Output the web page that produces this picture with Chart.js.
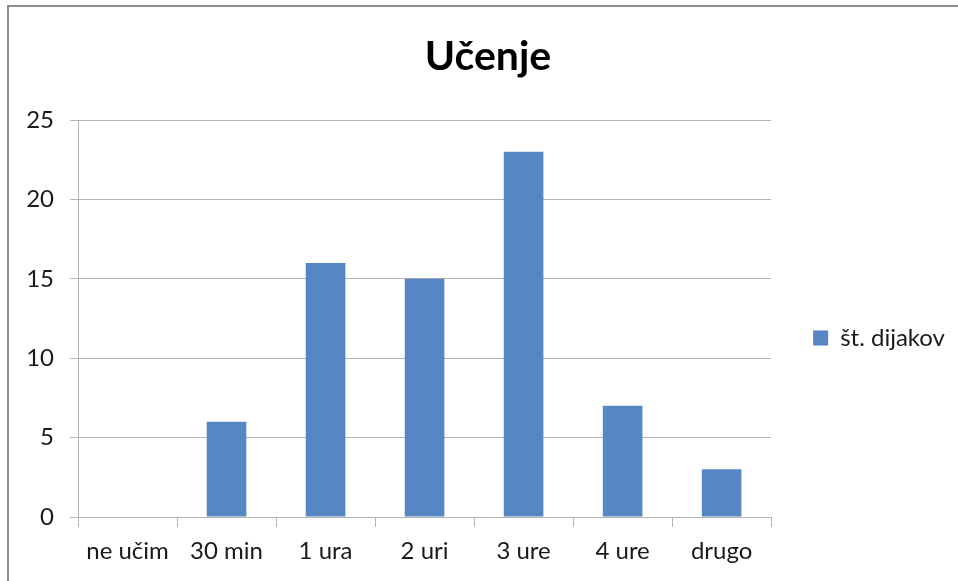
<!DOCTYPE html>
<html>
<head>
<meta charset="utf-8">
<script src="https://cdn.jsdelivr.net/npm/chart.js@4/dist/chart.umd.min.js"></script>
<style>
  html, body { margin: 0; padding: 0; background: #ffffff; overflow: hidden; width: 958px; height: 581px; }
  #frame { position: absolute; left: 7px; top: 5px; width: 1000px; height: 700px;
           border-left: 2px solid #8c8c8c; border-top: 2px solid #8c8c8c; }
  #c { position: absolute; left: 0; top: 0; }
</style>
</head>
<body>
<div id="frame"></div>
<canvas id="c" width="958" height="581"></canvas>
<script>
const titleText = 'Učenje';
const categories = ['ne učim', '30 min', '1 ura', '2 uri', '3 ure', '4 ure', 'drugo'];
const seriesName = 'št. dijakov';
const seriesValues = [0, 6, 16, 15, 23, 7, 3];
const yTicks = [0, 5, 10, 15, 20, 25];

const FONT = 'Lato, "Open Sans", sans-serif';
const gridColor = '#b3b3b3';
const textColor = '#1a1a1a';
const barColor = '#5687c4';

new Chart(document.getElementById('c'), {
  type: 'bar',
  data: {
    labels: categories,
    datasets: [{
      label: seriesName,
      data: seriesValues,
      backgroundColor: barColor,
      borderWidth: 0,
      categoryPercentage: 1.0,
      barPercentage: 0.4
    }]
  },
  options: {
    responsive: false,
    animation: false,
    devicePixelRatio: 1,
    layout: { padding: { left: 21, right: 3, top: 0, bottom: 0 } },
    plugins: {
      title: {
        display: true,
        text: titleText,
        color: '#000000',
        font: { family: FONT, size: 41, weight: 'bold' },
        padding: { top: 32, bottom: 38.8 }
      },
      legend: {
        display: true,
        position: 'right',
        fullSize: false,
        align: 'center',
        title: { display: true, text: '', font: { size: 1 }, padding: { top: 38, bottom: 0 } },
        labels: {
          boxWidth: 15,
          boxHeight: 15,
          padding: 42,
          color: textColor,
          font: { family: FONT, size: 24 }
        }
      },
      tooltip: { enabled: false }
    },
    scales: {
      x: {
        grid: { offset: true, drawOnChartArea: false, drawTicks: true, tickLength: 10, color: gridColor },
        border: { display: true, color: gridColor, width: 1 },
        ticks: { color: textColor, font: { family: FONT, size: 24 }, padding: 10, maxRotation: 0, autoSkip: false },
        afterFit: (s) => { s.height = 64; }
      },
      y: {
        min: yTicks[0],
        max: yTicks[yTicks.length - 1],
        afterBuildTicks: (s) => { s.ticks = yTicks.map(v => ({ value: v })); },
        grid: { drawTicks: true, tickLength: 8, color: gridColor },
        border: { display: true, color: gridColor, width: 1 },
        ticks: { color: textColor, font: { family: FONT, size: 24 }, padding: 16 },
        afterFit: (s) => { s.width = 57; }
      }
    }
  }
});
</script>
</body>
</html>
